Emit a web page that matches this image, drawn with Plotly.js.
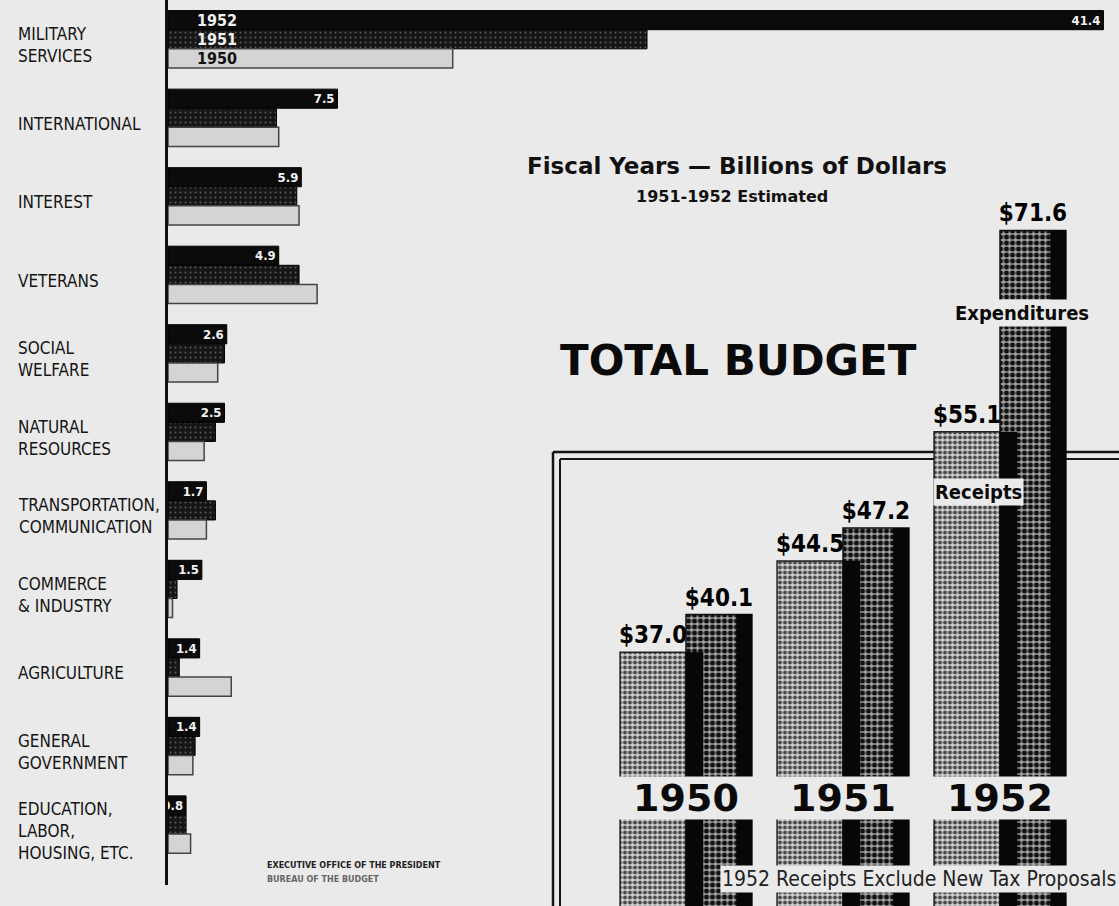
<!DOCTYPE html>
<html>
<head>
<meta charset="utf-8">
<script src="https://cdn.plot.ly/plotly-3.0.1.min.js"></script>
<style>html,body{margin:0;padding:0;background:#eaeaea;}#chart{width:1119px;height:906px;}</style>
</head>
<body>
<div id="chart"></div>
<script>
// ---- Data: functions, billions of dollars ----
const categories = ['MILITARY<br>SERVICES','INTERNATIONAL','INTEREST','VETERANS','SOCIAL<br>WELFARE','NATURAL<br>RESOURCES','TRANSPORTATION,<br>COMMUNICATION','COMMERCE<br>& INDUSTRY','AGRICULTURE','GENERAL<br>GOVERNMENT','EDUCATION,<br>LABOR,<br>HOUSING, ETC.'];
const fy1952 = [41.4, 7.5, 5.9, 4.9, 2.6, 2.5, 1.7, 1.5, 1.4, 1.4, 0.8];
const fy1951 = [21.2, 4.8, 5.7, 5.8, 2.5, 2.1, 2.1, 0.4, 0.5, 1.2, 0.8];
const fy1950 = [12.6, 4.9, 5.8, 6.6, 2.2, 1.6, 1.7, 0.2, 2.8, 1.1, 1.0];
const yearNames = ['1952', '1951', '1950'];

// ---- Data: total budget ----
const years = ['1950', '1951', '1952'];
const receipts = [37.0, 44.5, 55.1];
const expenditures = [40.1, 47.2, 71.6];

const NARROW = "'DejaVu Sans Condensed', 'Liberation Sans Narrow', 'DejaVu Sans', sans-serif";
const HEAVY = "'DejaVu Sans', 'Liberation Sans', sans-serif";
const BG = '#eaeaea';

const traces = [
  {type:'bar', orientation:'h', name:'1952', y:categories, x:fy1952, xaxis:'x', yaxis:'y',
   marker:{color:'#0b0b0b', line:{color:'#000', width:1}},
   texttemplate:'%{x:.1f}', textposition:'inside', insidetextanchor:'end', textangle:0, constraintext:'none',
   textfont:{family:NARROW, size:13, color:'#f2f2f2', weight:'bold', stretch:'condensed'}, hoverinfo:'skip'},
  {type:'bar', orientation:'h', name:'1951', y:categories, x:fy1951, xaxis:'x', yaxis:'y',
   marker:{color:'#1e1e1e', line:{color:'#000', width:1},
     pattern:{shape:'.', fillmode:'replace', bgcolor:'#161616', fgcolor:'#5a5a5a', size:5, solidity:0.12}},
   textposition:'none', hoverinfo:'skip'},
  {type:'bar', orientation:'h', name:'1950', y:categories, x:fy1950, xaxis:'x', yaxis:'y',
   marker:{color:'#d4d4d4', line:{color:'#444', width:1.5}},
   textposition:'none', hoverinfo:'skip'},
  // Total budget
  {type:'bar', name:'Receipts', x:years, y:receipts, xaxis:'x2', yaxis:'y2',
   offset:-0.42, width:0.42,
   marker:{color:'#b5b5b5', line:{color:'#222', width:1.5},
     pattern:{shape:'.', fillmode:'replace', bgcolor:'#d0d0d0', fgcolor:'#4a4a4a', size:5, solidity:0.5}},
   texttemplate:'$%{y:.1f}', textposition:'outside', cliponaxis:false, constraintext:'none',
   textfont:{family:NARROW, size:24, color:'#000', weight:'bold', stretch:'condensed'}, hoverinfo:'skip'},
  {type:'bar', name:'Expenditures', x:years, y:expenditures, xaxis:'x2', yaxis:'y2',
   offset:0, width:0.42,
   marker:{color:'#666', line:{color:'#111', width:1.5},
     pattern:{shape:'.', fillmode:'replace', bgcolor:'#a0a0a0', fgcolor:'#111', size:6, solidity:0.55}},
   texttemplate:'$%{y:.1f}', textposition:'outside', cliponaxis:false, constraintext:'none',
   textfont:{family:NARROW, size:24, color:'#000', weight:'bold', stretch:'condensed'}, hoverinfo:'skip'},
  {type:'bar', name:'Receipts side', x:years, y:receipts, xaxis:'x2', yaxis:'y2',
   offset:0, width:0.11, marker:{color:'#070707'}, textposition:'none', hoverinfo:'skip'},
  {type:'bar', name:'Expenditures side', x:years, y:expenditures, xaxis:'x2', yaxis:'y2',
   offset:0.32, width:0.1, marker:{color:'#070707'}, textposition:'none', hoverinfo:'skip'}
];

const annotations = [];
categories.forEach(c => annotations.push({
  xref:'paper', yref:'y', x:0.014, y:c, yshift:-6, xanchor:'left', yanchor:'middle', align:'left',
  text:c, showarrow:false, font:{family:NARROW, size:17, color:'#151515', stretch:'condensed'}
}));
yearNames.forEach((yr, i) => annotations.push({
  xref:'x', yref:'y', x:1.2, y:categories[0], yshift:19 - 19*i, xanchor:'left', yanchor:'middle',
  text:yr, showarrow:false, font:{family:NARROW, size:16, color: i < 2 ? '#f2f2f2' : '#111', weight:'bold', stretch:'condensed'}
}));
years.forEach((yr, i) => annotations.push({
  xref:'x2', yref:'paper', x:i, y:1 - 798/906, xanchor:'center', yanchor:'middle',
  text:'<b>' + yr + '</b>', showarrow:false, bgcolor:BG, width:140, height:40,
  font:{family:HEAVY, size:38, color:'#0a0a0a'}
}));
annotations.push(
  {xref:'paper', yref:'paper', x:737/1119, y:1 - 151/906, text:'<b>Fiscal Years — Billions of Dollars</b>',
   showarrow:false, font:{family:HEAVY, size:23, color:'#111'}},
  {xref:'paper', yref:'paper', x:732/1119, y:1 - 185/906, text:'<b>1951-1952 Estimated</b>',
   showarrow:false, font:{family:HEAVY, size:16, color:'#111'}},
  {xref:'paper', yref:'paper', x:738/1119, y:1 - 361/906, text:'<b>TOTAL BUDGET</b>',
   showarrow:false, font:{family:HEAVY, size:42, color:'#0a0a0a'}},
  {xref:'x2', yref:'paper', x:2, xshift:22, y:1 - 313/906, text:'<b>Expenditures</b>',
   showarrow:false, bgcolor:BG, font:{family:NARROW, size:20, color:'#0a0a0a', stretch:'condensed'}},
  {xref:'x2', yref:'paper', x:2, xshift:-22, y:1 - 492/906, text:'<b>Receipts</b>',
   showarrow:false, bgcolor:BG, font:{family:NARROW, size:20, color:'#0a0a0a', stretch:'condensed'}},
  {xref:'paper', yref:'paper', x:720/1119, y:1 - 893/906, xanchor:'left', text:'1952 Receipts Exclude New Tax Proposals',
   showarrow:false, bgcolor:BG, font:{family:NARROW, size:21, color:'#222', stretch:'condensed'}},
  {xref:'paper', yref:'paper', x:265/1119, y:1 - 872/906, xanchor:'left', text:'<b>EXECUTIVE OFFICE OF THE PRESIDENT</b>',
   showarrow:false, font:{family:HEAVY, size:8, color:'#222'}},
  {xref:'paper', yref:'paper', x:265/1119, y:1 - 886/906, xanchor:'left', text:'<b>BUREAU OF THE BUDGET</b>',
   showarrow:false, font:{family:HEAVY, size:8, color:'#666'}}
);

const px = v => v/1119, py = v => 1 - v/906;
const shapes = [
  {type:'line', xref:'paper', yref:'paper', x0:px(553), x1:1, y0:py(452), y1:py(452), layer:'below', line:{color:'#151515', width:2.5}},
  {type:'line', xref:'paper', yref:'paper', x0:px(560), x1:1, y0:py(459), y1:py(459), layer:'below', line:{color:'#151515', width:2}},
  {type:'line', xref:'paper', yref:'paper', x0:px(553), x1:px(553), y0:py(452), y1:0, layer:'below', line:{color:'#151515', width:2.5}},
  {type:'line', xref:'paper', yref:'paper', x0:px(560), x1:px(560), y0:py(459), y1:0, layer:'below', line:{color:'#151515', width:2}}
];

const layout = {
  width:1119, height:906, margin:{l:0, r:0, t:0, b:0},
  paper_bgcolor:BG, plot_bgcolor:'rgba(0,0,0,0)',
  showlegend:false, barmode:'group', bargap:0.27, bargroupgap:0,
  xaxis:{domain:[168/1119, 1117/1119], range:[0, 42], visible:false, fixedrange:true},
  yaxis:{domain:[1 - 885/906, 1], type:'category', range:[10.77, -0.5], anchor:'x',
         showline:true, linecolor:'#111', linewidth:3, showticklabels:false, ticks:'', showgrid:false, zeroline:false},
  xaxis2:{domain:[607.5/1119, 1078.5/1119], range:[-0.5, 2.5], type:'category', visible:false, anchor:'y2'},
  yaxis2:{domain:[0, 1], range:[16.2, 90.5], visible:false, anchor:'x2'},
  annotations:annotations, shapes:shapes
};

Plotly.newPlot('chart', traces, layout, {staticPlot:true});
</script>
</body>
</html>
